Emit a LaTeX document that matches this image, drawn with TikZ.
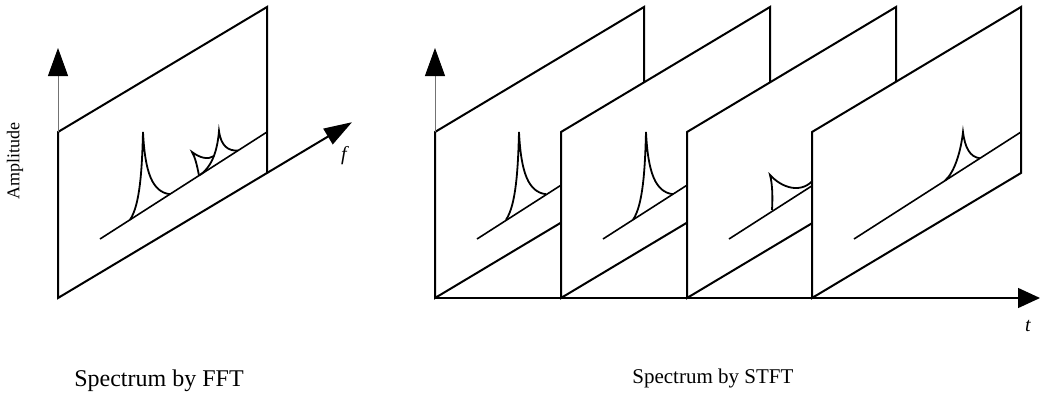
\documentclass[tikz,border=0pt]{standalone}
\usepackage{fontspec}
\setmainfont{Liberation Serif}
\usetikzlibrary{arrows.meta}
\tikzset{
  pane/.style={draw=black, fill=white, line width=1pt},
  base/.style={draw=black, line width=0.8pt},
  spec/.style={draw=black, line width=0.9pt},
  ampaxis/.style={draw=black!55, line width=0.5pt, -{Triangle[length=14pt, width=10pt, color=black]}},
  timeaxis/.style={draw=black, line width=0.7pt, -{Triangle[length=11pt, width=10pt]}},
  faxis/.style={draw=black, line width=1pt, -{Triangle[length=14pt, width=9pt]}},
  lbl/.style={inner sep=0pt, text=black},
}
% one panel: frame and spectrum baseline, #1 = left edge
\newcommand{\drawpane}[1]{
  \draw[pane] (#1,298) -- (#1+0,132) -- (#1+209,7) -- (#1+209,173) -- cycle;
  \draw[base] (#1+42,239) -- (#1+209,132);
}
% single sharp peak
\newcommand{\sharppeak}[1]{
  \draw[spec] (#1+72,219.8) .. controls (#1+82,205) and (#1+84,170) .. (#1+85,132)
    .. controls (#1+87,172) and (#1+94,192) .. (#1+112,194.2);
}

\begin{document}
\begin{tikzpicture}[x=0.5pt, y=-0.5pt]
  \useasboundingbox (0,0) rectangle (1041,392);

  % spectrum by FFT
  \drawpane{58}
  \sharppeak{58}
  \draw[spec] (58+141,175.6) .. controls (58+139,165) and (58+137,157) .. (58+134,152)
    .. controls (58+142,158) and (58+150,160) .. (58+156,156);
  \draw[spec] (58+142,175) .. controls (58+152,168) and (58+159,155) .. (58+161,131)
    .. controls (58+163,146) and (58+170,151) .. (58+180,150.6);
  \coordinate (fft0) at (58,132);
  \coordinate (fftA) at (58,48);
  \coordinate (fftB) at (267,173);
  \coordinate (fftF) at (352,122.2);
  \draw[ampaxis] (fft0) -- (fftA);
  \draw[faxis] (fftB) -- (fftF);
  \node[lbl, rotate=90, font=\fontsize{9}{11}\selectfont] (amp) at (15,161) {Amplitude};
  \node[lbl, font=\fontsize{10}{12}\selectfont\itshape] (flbl) at (344,156) {f};
  \node[lbl, anchor=base, font=\fontsize{12}{14}\selectfont] (fftlbl) at (159,386) {Spectrum by FFT};

  % spectrum by STFT
  \drawpane{435}
  \sharppeak{434}
  \drawpane{561}
  \sharppeak{561}
  \drawpane{687}
  \draw[spec] (687+85,210) .. controls (687+86,195) and (687+85,182) .. (687+83,175)
    .. controls (687+95,188) and (687+115,195) .. (687+128,178);
  \drawpane{812}
  \draw[spec] (812+133,180.6) .. controls (812+143,172) and (812+149,150) .. (812+151,132)
    .. controls (812+153,148) and (812+158,157) .. (812+168,158.3);
  \coordinate (stft0) at (435,132);
  \coordinate (stftA) at (435,48);
  \coordinate (stftO) at (435,298);
  \coordinate (stftT) at (1040,298);
  \draw[ampaxis] (stft0) -- (stftA);
  \draw[timeaxis] (stftO) -- (stftT);
  \node[lbl, font=\fontsize{10}{12}\selectfont\itshape] (tlbl) at (1028,326) {t};
  \node[lbl, anchor=base west, font=\fontsize{10.5}{12}\selectfont] (stftlbl) at (632,383) {Spectrum by STFT};
\end{tikzpicture}
\end{document}
